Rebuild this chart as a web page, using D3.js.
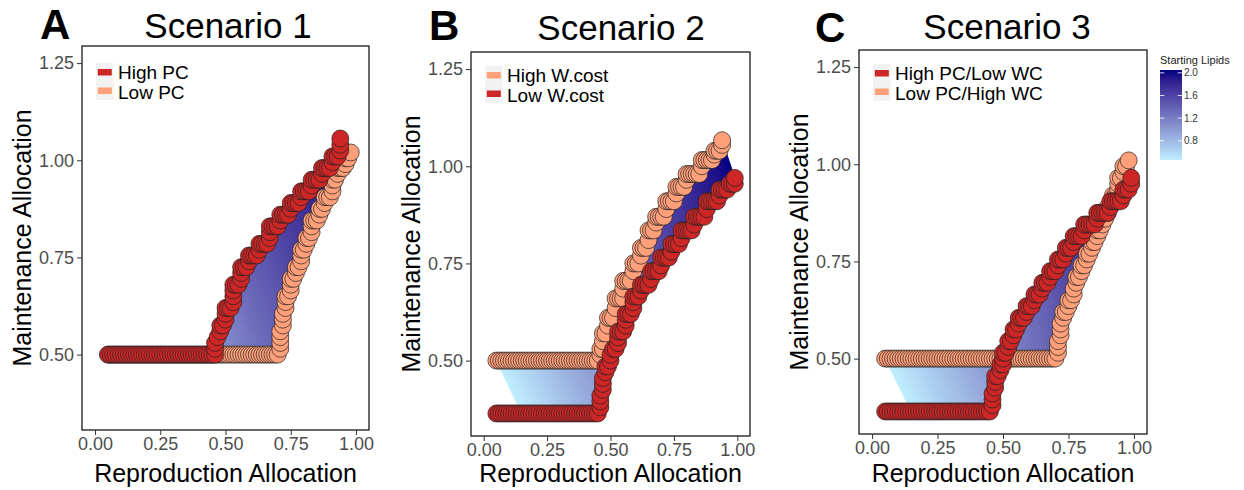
<!DOCTYPE html>
<html>
<head>
<meta charset="utf-8">
<script src="https://cdn.jsdelivr.net/npm/d3@7"></script>
<style>
body { margin: 0; background: #fff; }
text { font-family: "Liberation Sans", Arial, sans-serif; }
</style>
</head>
<body>
<div class="graph"></div>
<script>
// ---- data ----
var lipidRange = [0.46, 2.05]
var lipidTicks = [0.8, 1.2, 1.6, 2.0]
var xTicks = [0, 0.25, 0.5, 0.75, 1]
var yTicks = [0.5, 0.75, 1, 1.25]
var panelLetters = ['A', 'B', 'C']
var panelTitles = ['Scenario 1', 'Scenario 2', 'Scenario 3']
var legendLabels = [['High PC', 'Low PC'], ['High W.cost', 'Low W.cost'], ['High PC/Low WC', 'Low PC/High WC']]
var legendKinds = [['dark', 'pale'], ['pale', 'dark'], ['dark', 'pale']]
var fillFrom = [0.05, 0.15, 0.15]   // where the shaded band starts on the dark curve

// Scenario 1 : High PC (dark), Low PC (pale)
var s1High = [
  [.05,.5],[.06,.5],[.07,.5],[.08,.5],[.09,.5],[.10,.5],[.11,.5],[.12,.5],[.13,.5],[.14,.5],
  [.15,.5],[.16,.5],[.17,.5],[.18,.5],[.19,.5],[.20,.5],[.21,.5],[.22,.5],[.23,.5],[.24,.5],
  [.25,.5],[.26,.5],[.27,.5],[.28,.5],[.29,.5],[.30,.5],[.31,.5],[.32,.5],[.33,.5],[.34,.5],
  [.35,.5],[.36,.5],[.37,.5],[.38,.5],[.39,.5],[.40,.5],[.41,.5],[.42,.5],[.43,.5],[.44,.5],
  [.45,.5],[.46,.5],
  [.46,.515],[.46,.53],[.47,.545],[.48,.56],[.48,.575],[.49,.575],[.50,.59],[.50,.605],[.50,.62],[.51,.62],
  [.52,.62],[.53,.635],[.53,.65],[.53,.665],[.53,.68],[.54,.68],[.55,.68],[.56,.695],[.56,.71],[.56,.725],
  [.57,.725],[.58,.725],[.59,.74],[.59,.755],[.60,.755],[.61,.755],[.62,.755],[.63,.77],[.63,.785],[.64,.785],
  [.65,.785],[.66,.785],[.67,.80],[.67,.815],[.67,.83],[.68,.83],[.69,.83],[.70,.83],[.71,.845],[.71,.86],
  [.72,.86],[.73,.86],[.74,.86],[.75,.875],[.75,.89],[.76,.89],[.77,.89],[.78,.89],[.79,.905],[.79,.92],
  [.80,.92],[.81,.92],[.82,.92],[.83,.935],[.83,.95],[.84,.95],[.85,.95],[.86,.95],[.87,.965],[.87,.98],
  [.88,.98],[.89,.98],[.90,.98],[.91,.995],[.91,1.01],[.92,1.01],[.93,1.01],[.94,1.025],[.94,1.04],[.94,1.056]
]
var s1Low = [
  [.05,.5],[.06,.5],[.07,.5],[.08,.5],[.09,.5],[.10,.5],[.11,.5],[.12,.5],[.13,.5],[.14,.5],
  [.15,.5],[.16,.5],[.17,.5],[.18,.5],[.19,.5],[.20,.5],[.21,.5],[.22,.5],[.23,.5],[.24,.5],
  [.25,.5],[.26,.5],[.27,.5],[.28,.5],[.29,.5],[.30,.5],[.31,.5],[.32,.5],[.33,.5],[.34,.5],
  [.35,.5],[.36,.5],[.37,.5],[.38,.5],[.39,.5],[.40,.5],[.41,.5],[.42,.5],[.43,.5],[.44,.5],
  [.45,.5],[.46,.5],[.47,.5],[.48,.5],[.49,.5],[.50,.5],[.51,.5],[.52,.5],[.53,.5],[.54,.5],
  [.55,.5],[.56,.5],[.57,.5],[.58,.5],[.59,.5],[.60,.5],[.61,.5],[.62,.5],[.63,.5],[.64,.5],
  [.65,.5],[.66,.5],[.67,.5],[.68,.5],[.69,.5],[.70,.5],
  [.71,.515],[.71,.53],[.71,.545],[.71,.56],[.72,.575],[.72,.59],[.72,.605],[.73,.62],[.73,.635],[.73,.65],
  [.74,.65],[.75,.665],[.75,.68],[.75,.695],[.76,.695],[.77,.71],[.77,.725],[.78,.725],[.79,.74],[.79,.755],
  [.79,.77],[.80,.77],[.81,.785],[.81,.80],[.82,.80],[.83,.815],[.83,.83],[.83,.845],[.84,.845],[.85,.845],
  [.86,.86],[.86,.875],[.87,.875],[.88,.89],[.88,.905],[.89,.905],[.90,.905],[.91,.92],[.91,.935],[.91,.95],
  [.92,.95],[.93,.965],[.93,.98],[.94,.98],[.95,.98],[.96,.99],[.96,1.005],[.97,1.005],[.98,1.02]
]

// Scenario 2 : High W.cost (pale), Low W.cost (dark)
var s2High = [
  [.05,.5],[.06,.5],[.07,.5],[.08,.5],[.09,.5],[.10,.5],[.11,.5],[.12,.5],[.13,.5],[.14,.5],
  [.15,.5],[.16,.5],[.17,.5],[.18,.5],[.19,.5],[.20,.5],[.21,.5],[.22,.5],[.23,.5],[.24,.5],
  [.25,.5],[.26,.5],[.27,.5],[.28,.5],[.29,.5],[.30,.5],[.31,.5],[.32,.5],[.33,.5],[.34,.5],
  [.35,.5],[.36,.5],[.37,.5],[.38,.5],[.39,.5],[.40,.5],[.41,.5],[.42,.5],[.43,.5],[.44,.5],
  [.45,.5],
  [.46,.515],[.46,.53],[.47,.53],[.47,.55],[.47,.57],[.48,.57],[.49,.59],[.49,.61],[.50,.61],[.51,.61],
  [.52,.635],[.52,.66],[.53,.66],[.54,.66],[.55,.66],[.55,.685],[.55,.705],[.56,.705],[.57,.705],[.58,.705],
  [.59,.73],[.59,.75],[.60,.75],[.61,.75],[.62,.77],[.62,.79],[.63,.79],[.64,.79],[.65,.81],[.65,.835],
  [.66,.835],[.67,.835],[.68,.855],[.68,.87],[.69,.87],[.70,.87],[.71,.87],[.72,.89],[.72,.91],[.73,.91],
  [.74,.91],[.75,.91],[.76,.93],[.76,.947],[.77,.947],[.78,.947],[.79,.947],[.80,.965],[.80,.98],[.81,.98],
  [.82,.98],[.83,.98],[.84,.98],[.85,.98],[.86,1.0],[.86,1.016],[.87,1.016],[.88,1.016],[.89,1.016],[.90,1.016],
  [.91,1.03],[.91,1.04],[.92,1.04],[.93,1.04],[.94,1.055],[.94,1.067]
]
var s2Low = [
  [.05,.364],[.06,.364],[.07,.364],[.08,.364],[.09,.364],[.10,.364],[.11,.364],[.12,.364],[.13,.364],[.14,.364],
  [.15,.364],[.16,.364],[.17,.364],[.18,.364],[.19,.364],[.20,.364],[.21,.364],[.22,.364],[.23,.364],[.24,.364],
  [.25,.364],[.26,.364],[.27,.364],[.28,.364],[.29,.364],[.30,.364],[.31,.364],[.32,.364],[.33,.364],[.34,.364],
  [.35,.364],[.36,.364],[.37,.364],[.38,.364],[.39,.364],[.40,.364],[.41,.364],[.42,.364],[.43,.364],[.44,.364],
  [.45,.364],
  [.46,.38],[.46,.395],[.46,.41],[.47,.425],[.47,.44],[.47,.455],[.48,.47],[.48,.485],[.49,.485],[.50,.50],
  [.50,.515],[.51,.53],[.52,.53],[.53,.545],[.53,.56],[.53,.575],[.54,.575],[.55,.575],[.56,.59],[.56,.605],
  [.56,.62],[.57,.62],[.58,.62],[.59,.635],[.59,.65],[.59,.665],[.60,.665],[.61,.665],[.62,.68],[.62,.695],
  [.63,.695],[.64,.695],[.65,.695],[.66,.71],[.66,.73],[.67,.73],[.68,.73],[.69,.73],[.70,.745],[.70,.765],
  [.71,.765],[.72,.765],[.73,.765],[.74,.78],[.74,.80],[.75,.80],[.76,.80],[.77,.80],[.78,.815],[.78,.835],
  [.79,.835],[.80,.835],[.81,.835],[.82,.835],[.83,.85],[.83,.87],[.84,.87],[.85,.87],[.86,.87],[.87,.87],
  [.88,.89],[.88,.91],[.89,.91],[.90,.91],[.91,.91],[.92,.91],[.93,.925],[.93,.94],[.94,.94],[.95,.94],
  [.96,.94],[.97,.955],[.98,.955],[.99,.955],[.99,.97]
]

// Scenario 3 : High PC/Low WC (dark), Low PC/High WC (pale)
var s3High = [
  [.05,.364],[.06,.364],[.07,.364],[.08,.364],[.09,.364],[.10,.364],[.11,.364],[.12,.364],[.13,.364],[.14,.364],
  [.15,.364],[.16,.364],[.17,.364],[.18,.364],[.19,.364],[.20,.364],[.21,.364],[.22,.364],[.23,.364],[.24,.364],
  [.25,.364],[.26,.364],[.27,.364],[.28,.364],[.29,.364],[.30,.364],[.31,.364],[.32,.364],[.33,.364],[.34,.364],
  [.35,.364],[.36,.364],[.37,.364],[.38,.364],[.39,.364],[.40,.364],[.41,.364],[.42,.364],[.43,.364],[.44,.364],
  [.45,.364],
  [.46,.38],[.46,.395],[.46,.41],[.47,.425],[.47,.44],[.47,.455],[.48,.455],[.49,.47],[.49,.485],[.50,.485],
  [.50,.50],[.50,.515],[.51,.515],[.52,.53],[.52,.545],[.53,.545],[.54,.56],[.54,.575],[.55,.575],[.56,.59],
  [.56,.605],[.57,.605],[.58,.605],[.59,.62],[.59,.635],[.60,.635],[.61,.635],[.62,.65],[.62,.665],[.63,.665],
  [.64,.665],[.65,.68],[.65,.695],[.66,.695],[.67,.695],[.68,.71],[.68,.725],[.69,.725],[.70,.725],[.71,.74],
  [.71,.755],[.72,.755],[.73,.755],[.74,.77],[.74,.785],[.75,.785],[.76,.785],[.77,.80],[.77,.815],[.78,.815],
  [.79,.815],[.80,.815],[.81,.83],[.81,.845],[.82,.845],[.83,.845],[.84,.845],[.85,.845],[.86,.86],[.86,.875],
  [.87,.875],[.88,.875],[.89,.875],[.90,.875],[.91,.89],[.91,.905],[.92,.905],[.93,.905],[.94,.905],[.95,.905],
  [.96,.92],[.96,.935],[.97,.935],[.98,.935],[.99,.95],[.99,.965]
]
var s3Low = [
  [.05,.5],[.06,.5],[.07,.5],[.08,.5],[.09,.5],[.10,.5],[.11,.5],[.12,.5],[.13,.5],[.14,.5],
  [.15,.5],[.16,.5],[.17,.5],[.18,.5],[.19,.5],[.20,.5],[.21,.5],[.22,.5],[.23,.5],[.24,.5],
  [.25,.5],[.26,.5],[.27,.5],[.28,.5],[.29,.5],[.30,.5],[.31,.5],[.32,.5],[.33,.5],[.34,.5],
  [.35,.5],[.36,.5],[.37,.5],[.38,.5],[.39,.5],[.40,.5],[.41,.5],[.42,.5],[.43,.5],[.44,.5],
  [.45,.5],[.46,.5],[.47,.5],[.48,.5],[.49,.5],[.50,.5],[.51,.5],[.52,.5],[.53,.5],[.54,.5],
  [.55,.5],[.56,.5],[.57,.5],[.58,.5],[.59,.5],[.60,.5],[.61,.5],[.62,.5],[.63,.5],[.64,.5],
  [.65,.5],[.66,.5],[.67,.5],[.68,.5],[.69,.5],[.70,.5],
  [.71,.515],[.71,.53],[.71,.545],[.72,.56],[.72,.575],[.72,.59],[.73,.605],[.73,.62],[.74,.62],[.75,.635],
  [.75,.65],[.76,.65],[.77,.665],[.77,.68],[.78,.695],[.78,.71],[.79,.71],[.80,.725],[.80,.74],[.81,.74],
  [.82,.755],[.82,.77],[.83,.77],[.84,.785],[.84,.80],[.85,.80],[.86,.815],[.86,.83],[.87,.83],[.88,.845],
  [.88,.86],[.89,.86],[.90,.875],[.90,.89],[.91,.89],[.92,.905],[.92,.92],[.93,.92],[.94,.935],[.94,.95],
  [.94,.965],[.95,.965],[.96,.98],[.96,.995],[.97,.995],[.98,1.01]
]

var panelSeries = [
  {dark: s1High, pale: s1Low},
  {dark: s2Low, pale: s2High},
  {dark: s3High, pale: s3Low}
]

// ---- layout ----
var W = 1244, H = 490
var darkRed = '#CD2626', salmon = '#FFA07A'
var panels = [
  {left: 82, right: 369, top: 46, bottom: 430, letterX: 40, letterY: 39, titleX: 228, titleY: 38, legendY: 63},
  {left: 471, right: 750, top: 52, bottom: 436, letterX: 429, letterY: 40, titleX: 621, titleY: 40, legendY: 66},
  {left: 859, right: 1147, top: 50, bottom: 434, letterX: 815, letterY: 42, titleX: 1007, titleY: 39, legendY: 64}
]

var svg = d3.select('.graph')
    .append('svg')
    .attr('width', W)
    .attr('height', H)
svg.append('rect').attr('width', W).attr('height', H).attr('fill', '#fff')

var color = d3.scaleLinear()
    .domain(lipidRange)
    .range(['#BFEFFF', '#000080'])
    .interpolate(d3.interpolateLab)
var lipidAt = d3.scaleLinear().domain([0, 1]).range(lipidRange)

// shaded band between the two curves, coloured along its length by lipid level
function drawBand(g, a, b, x, y) {
    var n = Math.max(a.length, b.length) - 1
    var line = d3.line().x(d => x(d[0])).y(d => y(d[1]))
    for (var k = 0; k < n; k++) {
        var t0 = k / n, t1 = (k + 1) / n
        var i0 = Math.round(t0 * (a.length - 1)), i1 = Math.round(t1 * (a.length - 1))
        var j0 = Math.round(t0 * (b.length - 1)), j1 = Math.round(t1 * (b.length - 1))
        var c = color(lipidAt((t0 + t1) / 2))
        g.append('path')
            .attr('d', line([a[i0], a[i1], b[j1], b[j0]]) + 'Z')
            .attr('fill', c)
            .attr('stroke', c)
            .attr('stroke-width', 1)
            .attr('stroke-linejoin', 'round')
    }
}

function drawPanel(p, idx) {
    var series = panelSeries[idx]
    var x = d3.scaleLinear().domain([-0.05, 1.05]).range([p.left, p.right])
    var y = d3.scaleLinear().domain([0.306, 1.294]).range([p.bottom, p.top])
    var g = svg.append('g')

    var darkFill = series.dark.filter(d => d[0] >= fillFrom[idx] - 1e-9)
    drawBand(g.append('g'), darkFill, series.pale, x, y)

    g.append('g').selectAll('circle')
        .data(series.pale)
        .join('circle')
        .attr('cx', d => x(d[0]))
        .attr('cy', d => y(d[1]))
        .attr('r', 8.5)
        .attr('fill', salmon)
        .attr('stroke', '#222')
        .attr('stroke-width', 0.7)
    g.append('g').selectAll('circle')
        .data(series.dark)
        .join('circle')
        .attr('cx', d => x(d[0]))
        .attr('cy', d => y(d[1]))
        .attr('r', 8.5)
        .attr('fill', darkRed)
        .attr('stroke', '#222')
        .attr('stroke-width', 0.7)

    // border
    g.append('rect')
        .attr('x', p.left).attr('y', p.top)
        .attr('width', p.right - p.left).attr('height', p.bottom - p.top)
        .attr('fill', 'none').attr('stroke', '#1a1a1a').attr('stroke-width', 1.3)

    // axes
    var xa = g.append('g').attr('transform', 'translate(0,' + p.bottom + ')')
        .call(d3.axisBottom(x).tickValues(xTicks).tickFormat(d3.format('.2f')).tickSize(5).tickPadding(2))
    var ya = g.append('g').attr('transform', 'translate(' + p.left + ',0)')
        .call(d3.axisLeft(y).tickValues(yTicks).tickFormat(d3.format('.2f')).tickSize(5).tickPadding(3))
    ;[xa, ya].forEach(function(a) {
        a.select('.domain').remove()
        a.selectAll('line').attr('stroke', '#333')
        a.selectAll('text').attr('fill', '#4d4d4d').style('font-size', '18px')
            .style('font-family', '"Liberation Sans", Arial, sans-serif')
    })

    // axis titles
    g.append('text')
        .attr('x', (p.left + p.right) / 2).attr('y', 482)
        .attr('text-anchor', 'middle').style('font-size', '25px')
        .text('Reproduction Allocation')
    g.append('text')
        .attr('transform', 'translate(' + (p.left - 51) + ',' + ((p.top + p.bottom) / 2) + ') rotate(-90)')
        .attr('text-anchor', 'middle').style('font-size', '25px')
        .text('Maintenance Allocation')

    // titles
    g.append('text')
        .attr('x', p.letterX).attr('y', p.letterY)
        .style('font-size', '42px').style('font-weight', 'bold')
        .text(panelLetters[idx])
    g.append('text')
        .attr('x', p.titleX).attr('y', p.titleY)
        .attr('text-anchor', 'middle').style('font-size', '35px')
        .text(panelTitles[idx])

    // legend
    var lg = g.append('g').attr('transform', 'translate(' + (p.left + 14) + ',' + p.legendY + ')')
    legendLabels[idx].forEach(function(lab, i) {
        var kind = legendKinds[idx][i]
        lg.append('rect').attr('x', 0).attr('y', i * 18.5).attr('width', 17.5).attr('height', 18.5).attr('fill', '#f2f2f2')
        lg.append('rect').attr('x', 1.8).attr('y', i * 18.5 + 6).attr('width', 14).attr('height', 6.5)
            .attr('fill', kind === 'dark' ? darkRed : salmon)
        lg.append('text').attr('x', 22).attr('y', i * 19.5 + 16)
            .style('font-size', '19px').text(lab)
    })
}

panels.forEach(drawPanel)

// colour bar legend
var cb = svg.append('g')
var cbY = d3.scaleLinear().domain(lipidRange).range([160, 70])
var grad = svg.append('defs').append('linearGradient')
    .attr('id', 'lipid-grad')
    .attr('x1', 0).attr('y1', 1).attr('x2', 0).attr('y2', 0)
d3.range(0, 1.0001, 0.1).forEach(function(t) {
    grad.append('stop').attr('offset', t).attr('stop-color', color(lipidAt(t)))
})
cb.append('text').attr('x', 1160).attr('y', 64).style('font-size', '11px').attr('fill', '#1a1a1a')
    .text('Starting Lipids')
cb.append('rect').attr('x', 1160).attr('y', 70).attr('width', 22).attr('height', 90).attr('fill', 'url(#lipid-grad)')
lipidTicks.forEach(function(v) {
    var yy = cbY(v)
    cb.append('line').attr('x1', 1160).attr('x2', 1164.4).attr('y1', yy).attr('y2', yy).attr('stroke', '#fff').attr('stroke-width', 0.8)
    cb.append('line').attr('x1', 1177.6).attr('x2', 1182).attr('y1', yy).attr('y2', yy).attr('stroke', '#fff').attr('stroke-width', 0.8)
    cb.append('text').attr('x', 1184).attr('y', yy + 3.6).style('font-size', '10px').attr('fill', '#333')
        .text(d3.format('.1f')(v))
})
</script>
</body>
</html>
